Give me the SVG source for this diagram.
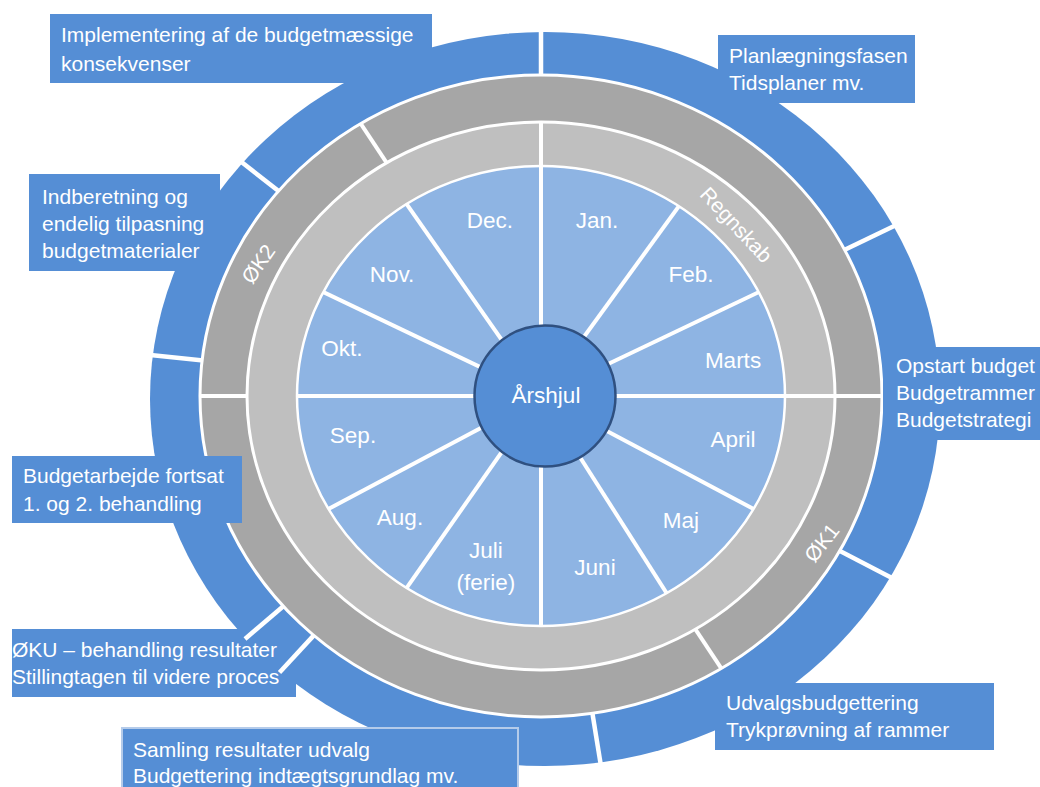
<svg xmlns="http://www.w3.org/2000/svg" width="1040" height="787" viewBox="0 0 1040 787">
<defs>
<style>
.t{font-family:"Liberation Sans",Arial,sans-serif;font-size:21px;fill:#ffffff}
.m{font-family:"Liberation Sans",Arial,sans-serif;font-size:22.5px;fill:#ffffff;text-anchor:middle}
.r{font-family:"Liberation Sans",Arial,sans-serif;font-size:21px;fill:#ffffff;text-anchor:middle}
.box{fill:#558ED5}
.sep{stroke:#ffffff;stroke-width:4;fill:none}
.bsep{stroke:#ffffff;stroke-width:4.5;fill:none}
</style>
<clipPath id="cDark"><ellipse cx="541" cy="396" rx="341" ry="321"/></clipPath>
<clipPath id="cLight"><ellipse cx="541" cy="396" rx="294" ry="274"/></clipPath>
<clipPath id="cMonth"><ellipse cx="541" cy="396" rx="244" ry="230"/></clipPath>
</defs>
<rect width="1040" height="787" fill="#ffffff"/>

<g id="ring-outer">
<ellipse cx="545" cy="399" rx="395" ry="367" fill="#558ED5"/>
<g class="bsep">
<line x1="541" y1="396" x2="541" y2="20"/>
<line x1="541" y1="396" x2="901.4" y2="222.5"/>
<line x1="541" y1="396" x2="900.6" y2="582.4"/>
<line x1="541" y1="396" x2="601.8" y2="771.1"/>
<line x1="541" y1="396" x2="143.2" y2="354.2"/>
<line x1="541" y1="396" x2="229.7" y2="152.8"/>
</g>
</g>

<g id="ring-dark">
<ellipse cx="541" cy="396" rx="341" ry="321" fill="#A6A6A6" stroke="#ffffff" stroke-width="3"/>
<g clip-path="url(#cDark)" class="sep">
<line x1="541" y1="396" x2="961" y2="396"/>
<line x1="541" y1="396" x2="772.8" y2="746.2"/>
<line x1="541" y1="396" x2="121" y2="396"/>
<line x1="541" y1="396" x2="309.2" y2="45.8"/>
</g>
</g>

<g id="ring-light">
<ellipse cx="541" cy="396" rx="294" ry="274" fill="#BFBFBF" stroke="#ffffff" stroke-width="3"/>
<g clip-path="url(#cLight)" class="sep">
<line x1="541" y1="396" x2="541" y2="80"/>
<line x1="541" y1="396" x2="880" y2="396"/>
</g>
</g>

<g id="months">
<ellipse cx="541" cy="396" rx="244" ry="230" fill="#8EB4E3" stroke="#ffffff" stroke-width="2.5"/>
<g clip-path="url(#cMonth)" class="sep">
<line x1="541" y1="396" x2="541" y2="96"/>
<line x1="541" y1="396" x2="717.3" y2="153.3"/>
<line x1="541" y1="396" x2="811.8" y2="266.8"/>
<line x1="541" y1="396" x2="841" y2="396"/>
<line x1="541" y1="396" x2="805.9" y2="536.8"/>
<line x1="541" y1="396" x2="702.2" y2="649"/>
<line x1="541" y1="396" x2="541" y2="696"/>
<line x1="541" y1="396" x2="368.9" y2="641.8"/>
<line x1="541" y1="396" x2="276.1" y2="536.8"/>
<line x1="541" y1="396" x2="241" y2="396"/>
<line x1="541" y1="396" x2="270.2" y2="266.8"/>
<line x1="541" y1="396" x2="368.9" y2="150.2"/>
</g>
</g>

<g id="m-jan"><text class="m" x="597" y="228">Jan.</text></g>
<g id="m-feb"><text class="m" x="691" y="282">Feb.</text></g>
<g id="m-mar"><text class="m" x="733" y="368">Marts</text></g>
<g id="m-apr"><text class="m" x="733" y="447">April</text></g>
<g id="m-maj"><text class="m" x="681" y="528">Maj</text></g>
<g id="m-jun"><text class="m" x="595" y="575">Juni</text></g>
<g id="m-jul"><text class="m" x="486" y="558">Juli</text><text class="m" x="486" y="590">(ferie)</text></g>
<g id="m-aug"><text class="m" x="400" y="525">Aug.</text></g>
<g id="m-sep"><text class="m" x="353" y="443">Sep.</text></g>
<g id="m-okt"><text class="m" x="342" y="356">Okt.</text></g>
<g id="m-nov"><text class="m" x="392" y="282">Nov.</text></g>
<g id="m-dec"><text class="m" x="490" y="228">Dec.</text></g>

<g id="hub">
<circle cx="545" cy="396" r="70.5" fill="#558ED5" stroke="#2F5080" stroke-width="2.5"/>
<text class="m" x="546" y="403" font-size="23">Årshjul</text>
</g>

<g id="lbl-regnskab"><text class="r" transform="translate(736,225) rotate(47)" y="7">Regnskab</text></g>
<g id="lbl-ok1"><text class="r" transform="translate(822,543) rotate(-52)" y="7">ØK1</text></g>
<g id="lbl-ok2"><text class="r" transform="translate(258.5,264) rotate(-55)" y="7">ØK2</text></g>

<g id="box-implementering">
<rect class="box" x="50" y="14" width="382" height="69"/>
<text class="t" x="61" y="42">Implementering af de budgetmæssige</text>
<text class="t" x="61" y="71">konsekvenser</text>
</g>
<g id="box-planlaegning">
<rect class="box" x="718" y="35" width="197" height="68"/>
<text class="t" x="729" y="63">Planlægningsfasen</text>
<text class="t" x="729" y="90">Tidsplaner mv.</text>
</g>
<g id="box-indberetning">
<rect class="box" x="29" y="174" width="191" height="97"/>
<text class="t" x="42" y="204">Indberetning og</text>
<text class="t" x="42" y="231">endelig tilpasning</text>
<text class="t" x="42" y="258">budgetmaterialer</text>
</g>
<g id="box-opstart">
<rect class="box" x="883" y="347" width="157" height="93"/>
<text class="t" x="896" y="373">Opstart budget</text>
<text class="t" x="896" y="400">Budgetrammer</text>
<text class="t" x="896" y="427">Budgetstrategi</text>
</g>
<g id="box-budgetarbejde">
<rect class="box" x="12" y="456" width="230" height="67"/>
<text class="t" x="23" y="483">Budgetarbejde fortsat</text>
<text class="t" x="23" y="511">1. og 2. behandling</text>
</g>
<g id="box-oku">
<rect class="box" x="12" y="629" width="284" height="68"/>
<text class="t" x="12" y="657">ØKU – behandling resultater</text>
<text class="t" x="12" y="684">Stillingtagen til videre proces</text>
</g>
<g id="box-samling">
<rect class="box" x="122" y="728" width="396" height="70" stroke="#B4CBEA" stroke-width="2"/>
<text class="t" x="133" y="757">Samling resultater udvalg</text>
<text class="t" x="133" y="783">Budgettering indtægtsgrundlag mv.</text>
</g>
<g id="box-udvalg">
<rect class="box" x="715" y="683" width="279" height="67"/>
<text class="t" x="726" y="710">Udvalgsbudgettering</text>
<text class="t" x="726" y="737">Trykprøvning af rammer</text>
</g>

<g id="outer-separators" class="bsep">
<line x1="313.8" y1="635.4" x2="279.5" y2="672.5"/>
<line x1="283.3" y1="606.2" x2="245" y2="639"/>
</g>
</svg>
